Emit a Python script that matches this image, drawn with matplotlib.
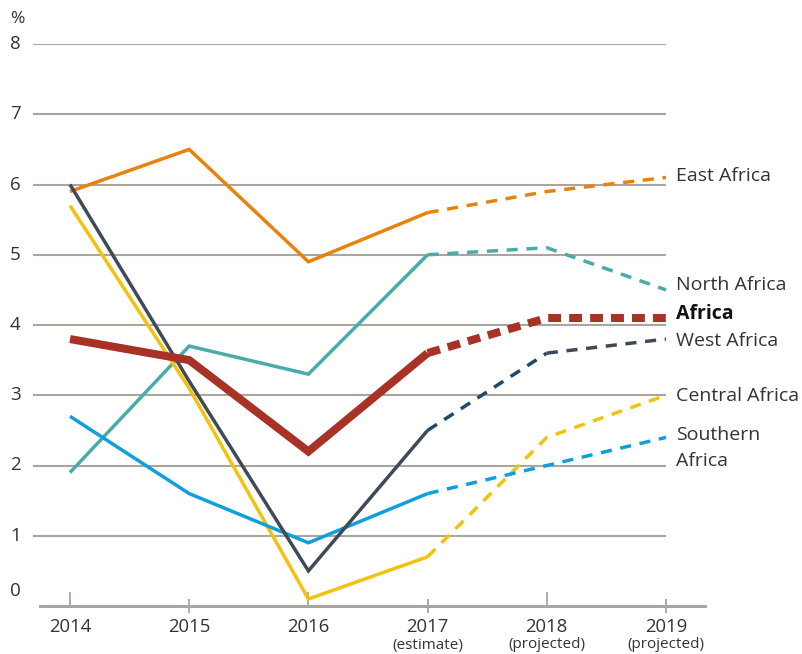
import matplotlib
matplotlib.use("Agg")
import matplotlib.pyplot as plt
import matplotlib.transforms as mtransforms

plt.rcParams['font.family'] = ['Open Sans', 'DejaVu Sans']

years = [2014, 2015, 2016, 2017, 2018, 2019]
year_labels = ["2014", "2015", "2016", "2017", "2018", "2019"]
year_sublabels = ["", "", "", "(estimate)", "(projected)", "(projected)"]

east = [5.9, 6.5, 4.9, 5.6, 5.9, 6.1]
north = [1.9, 3.7, 3.3, 5.0, 5.1, 4.5]
africa = [3.8, 3.5, 2.2, 3.6, 4.1, 4.1]
west = [6.0, 3.2, 0.5, 2.5, 3.6, 3.8]
central = [5.7, 3.1, 0.1, 0.7, 2.4, 3.0]
southern = [2.7, 1.6, 0.9, 1.6, 2.0, 2.4]

series = [
    # name, values, solid colour, dashed colours per segment, lw, dashes, label y, bold
    ("East Africa", east, "#e8820c", ["#e8820c", "#e8820c"], 2.5, (3.2, 2.5), 6.12, False),
    ("North Africa", north, "#4aaba8", ["#4aaba8", "#4aaba8"], 2.5, (3.2, 2.5), 4.57, False),
    ("Central Africa", central, "#f4c20d", ["#f4c20d", "#f4c20d"], 2.5, (3.2, 2.5), 2.99, False),
    ("Southern\nAfrica", southern, "#109fdd", ["#109fdd", "#109fdd"], 2.5, (3.2, 2.5), 2.25, False),
    ("West Africa", west, "#3e4a58", ["#1f4a6c", "#3e4a58"], 2.5, (3.2, 2.5), 3.77, False),
    ("Africa", africa, "#a93226", ["#a93226", "#a93226"], 5.8, (1.6, 1.0), 4.15, True),
]

fig = plt.figure(figsize=(8.02, 6.54), dpi=100)
ax = fig.add_axes([33/802, 1 - 606/654, (705 - 33)/802, (606 - 44)/654])
x0 = 2014 - 37/119.2
x1 = 2019 + 39/119.2
ax.set_xlim(x0, x1)
ax.set_ylim(0, 8)

grid_c = "#aba59f"
for v in range(1, 9):
    ax.plot([x0, 2019], [v, v], color=grid_c, lw=1.5, zorder=1, solid_capstyle='butt')

for s in ["top", "right", "left"]:
    ax.spines[s].set_visible(False)
ax.spines["bottom"].set_color(grid_c)
ax.spines["bottom"].set_linewidth(2.2)
ax.spines["bottom"].set_bounds(2014 - 30/119.2, x1)

ax.set_yticks([])
ax.set_xticks([2014, 2016, 2018])
ax.set_xticks([2015, 2017, 2019], minor=True)
ax.tick_params(axis='x', which='major', direction='in', length=10, width=1.3,
               color=grid_c, labelbottom=False)
ax.tick_params(axis='x', which='minor', direction='inout', length=10, width=1.3,
               color=grid_c, labelbottom=False)

txt_c = "#333333"
ylab_trans = mtransforms.blended_transform_factory(fig.transFigure, ax.transData)
for v in range(1, 9):
    ax.text(10/802, v, str(v), transform=ylab_trans, ha='left', va='center',
            fontsize=13.5, color=txt_c)
ax.text(10/802, 0.21, "0", transform=ylab_trans, ha='left', va='center',
        fontsize=13.5, color=txt_c)
fig.text(10/802, 1 - 19/654, "%", ha='left', va='center', fontsize=12.5, color=txt_c)

xlab_trans = mtransforms.blended_transform_factory(ax.transData, fig.transFigure)
for yr, lab, sub in zip(years, year_labels, year_sublabels):
    ax.text(yr, 1 - 627/654, lab, transform=xlab_trans, ha='center', va='center',
            fontsize=13.3, color=txt_c)
    if sub:
        ax.text(yr, 1 - 645/654, sub, transform=xlab_trans, ha='center', va='center',
                fontsize=11, color=txt_c)

for name, vals, c_solid, c_dash, lw, dashes, ly, bold in series:
    ax.plot(years[:4], vals[:4], color=c_solid, lw=lw, zorder=3,
            solid_joinstyle='miter', solid_capstyle='butt')
    if c_dash[0] == c_dash[1]:
        ax.plot(years[3:], vals[3:], color=c_dash[0], lw=lw, zorder=3,
                linestyle=(0, dashes), dash_capstyle='butt')
    else:
        for k in range(2):
            ax.plot(years[3 + k:5 + k], vals[3 + k:5 + k], color=c_dash[k], lw=lw,
                    zorder=3, linestyle=(0, dashes), dash_capstyle='butt')
    ax.text(2019 + 10/119.2, ly, name, ha='left', va='center', fontsize=14,
            color="#111111" if bold else txt_c,
            fontweight='bold' if bold else 'normal', linespacing=1.55,
            clip_on=False, zorder=4)

fig.savefig("out.png", dpi=100)
